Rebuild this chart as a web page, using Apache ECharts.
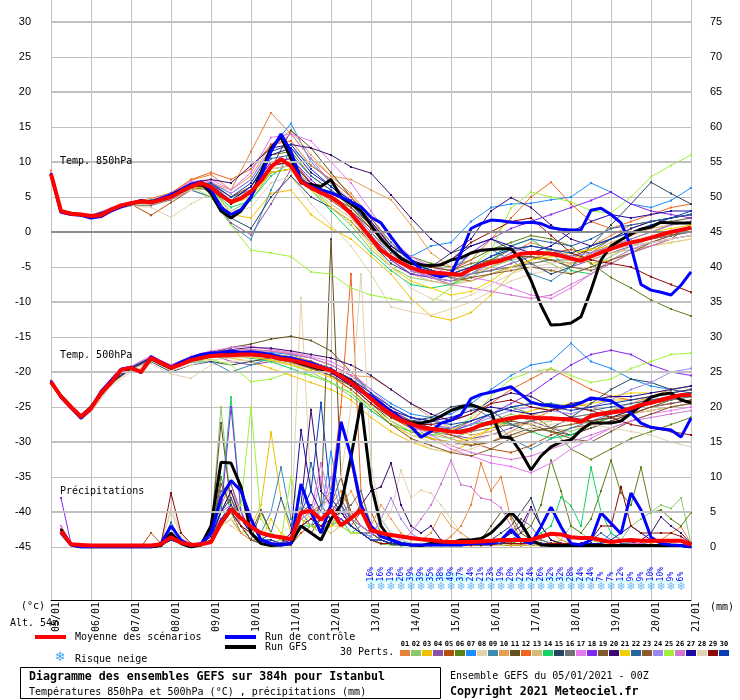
<!DOCTYPE html>
<html lang="fr">
<head>
<meta charset="utf-8">
<title>Ensembles GEFS Istanbul</title>
<script src="https://cdn.jsdelivr.net/npm/echarts@6.0.0/dist/echarts.min.js"></script>
<style>
    html, body { margin: 0; padding: 0; background: #fff; }
    #main { width: 740px; height: 700px; }
</style>
</head>
<body>
<div id="main"></div>
<script>
// ---- tick labels / categories
var DATE_LABELS = ['05/01', '06/01', '07/01', '08/01', '09/01', '10/01', '11/01', '12/01', '13/01',
    '14/01', '15/01', '16/01', '17/01', '18/01', '19/01', '20/01', '21/01'];
var PERT_NAMES = ['01', '02', '03', '04', '05', '06', '07', '08', '09', '10', '11', '12', '13', '14', '15',
    '16', '17', '18', '19', '20', '21', '22', '23', '24', '25', '26', '27', '28', '29', '30'];
var PERT_COLORS = ['#e8823a', '#8cc86e', '#f0c000', '#8c50aa', '#b4500a', '#5a8214', '#1e8cff', '#e6d2aa',
    '#3c8cb4', '#e6a050', '#645020', '#f06420', '#d2be78', '#14d264', '#284664', '#6e7378', '#e678f0',
    '#8228f0', '#7d5a28', '#3c0a6e', '#f0d200', '#2864a0', '#8c5a28', '#9b87f0', '#a0f03c', '#d278d2',
    '#1e0aa0', '#e1d2b4', '#8c0a0a', '#0a3cb4'];

// ---- snow risk (%), every 6h from 13/01 00z
var SNOW_RISK = [16, 16, 19, 26, 39, 39, 35, 38, 49, 37, 24, 21, 23, 19, 20, 22, 24, 26, 32, 32, 28, 24, 24,
    7, 7, 12, 9, 9, 10, 10, 9, 6];

// ---- mean / control / GFS, every 6h from 0h to 384h
var MEAN_T850 = [8.3, 3.0, 2.6, 2.5, 2.3, 2.4, 3.2, 3.8, 4.1, 4.4, 4.2, 4.6, 5.0, 5.8, 6.5, 7.0, 6.4, 5.2, 4.3, 4.8,
    5.8, 7.3, 9.3, 10.4, 9.4, 7.2, 6.3, 5.6, 5.0, 4.0, 2.6, 0.9, -0.9, -2.6, -3.6, -4.4, -5.1, -5.6, -5.8, -5.9,
    -6.0, -6.1, -5.3, -4.8, -4.4, -4.1, -3.6, -3.1, -3.0, -3.0, -3.1, -3.4, -3.8, -4.1, -3.5, -2.9, -2.4, -1.9, -1.5, -1.2,
    -0.8, -0.4, 0.0, 0.3, 0.6];
var CONTROL_T850 = [8.3, 2.8, 2.5, 2.4, 2.0, 2.2, 3.0, 3.6, 4.0, 4.5, 4.2, 4.8, 5.3, 6.0, 6.8, 7.2, 6.0, 3.5, 2.5, 3.2,
    5.0, 8.0, 11.5, 14.0, 11.5, 7.4, 6.5, 6.0, 5.6, 5.0, 4.3, 3.6, 2.1, 1.3, -0.7, -2.6, -4.0, -5.4, -6.0, -6.4,
    -6.0, -3.0, 0.5, 1.2, 1.7, 1.6, 1.4, 1.3, 1.4, 1.2, 0.6, 0.4, 0.3, 0.3, 3.1, 3.4, 2.5, 1.3, -2.1, -7.5,
    -8.3, -8.6, -9.0, -7.6, -5.7];
var GFS_T850 = [8.3, 2.9, 2.6, 2.5, 2.2, 2.4, 3.1, 3.8, 4.1, 4.4, 4.3, 4.7, 5.2, 6.0, 6.7, 7.0, 5.5, 3.0, 2.0, 3.0,
    5.0, 8.5, 12.0, 13.6, 10.5, 7.0, 6.8, 6.5, 7.5, 5.0, 4.0, 3.0, 1.0, -1.0, -2.5, -3.8, -4.5, -4.7, -4.8, -4.7,
    -4.0, -3.7, -3.0, -2.6, -2.5, -2.4, -2.4, -4.0, -6.9, -10.5, -13.3, -13.2, -13.0, -12.1, -8.3, -4.0, -2.0, -1.1, -0.3, 0.4,
    0.7, 1.4, 1.3, 1.3, 1.3];
var MEAN_T500 = [-21.4, -23.5, -25.0, -26.4, -25.2, -23.0, -21.5, -19.7, -19.4, -20.0, -18.0, -18.7, -19.4, -18.9, -18.3,
    -18.0, -17.7, -17.6, -17.6, -17.5, -17.5, -17.6, -17.8, -18.1, -18.3, -18.6, -19.0, -19.4, -19.8, -20.6,
    -21.5, -22.6, -23.8, -25.0, -26.0, -26.9, -27.4, -27.9, -28.1, -28.3, -28.5, -28.6, -28.2, -27.6, -27.2,
    -26.9, -26.6, -26.4, -26.5, -26.6, -26.6, -26.7, -26.8, -27.1, -26.3, -26.0, -25.8, -25.6, -25.2, -24.7,
    -24.4, -24.0, -23.6, -23.3, -23.3];
var CONTROL_T500 = [-21.3, -23.6, -25.1, -26.6, -25.3, -22.8, -21.2, -19.6, -19.3, -20.1, -17.8, -18.6, -19.3, -18.6, -18.0,
    -17.5, -17.3, -17.2, -17.0, -17.2, -17.1, -17.3, -17.5, -17.9, -18.0, -18.4, -18.7, -19.3, -20.0, -20.8,
    -21.6, -22.8, -23.4, -24.5, -25.6, -26.6, -27.8, -29.3, -28.5, -27.3, -26.9, -26.1, -23.8, -23.2, -22.9,
    -22.5, -22.1, -23.2, -24.3, -24.7, -24.8, -25.0, -24.9, -24.4, -23.7, -23.9, -24.1, -25.0, -25.9, -27.3,
    -27.9, -28.1, -28.3, -29.3, -26.6];
var GFS_T500 = [-21.5, -23.4, -25.0, -26.3, -25.0, -23.1, -21.6, -19.8, -19.5, -20.0, -18.1, -18.8, -19.5, -18.8, -18.2,
    -17.8, -17.5, -17.5, -17.4, -17.4, -17.3, -17.4, -17.7, -18.0, -18.3, -18.8, -19.2, -19.6, -20.0, -20.5,
    -21.3, -22.5, -23.8, -25.0, -26.0, -26.8, -27.2, -27.3, -27.0, -26.3, -25.5, -25.0, -24.7, -25.2, -25.7,
    -29.3, -29.4, -31.5, -34.0, -32.0, -30.7, -30.0, -29.7, -28.3, -27.3, -27.3, -27.3, -27.0, -25.9, -24.8,
    -23.6, -23.2, -23.0, -24.0, -24.4];

// precipitation (mm / 6h), every 6h from 6h to 384h
var MEAN_PRECIP = [2.2, 0.4, 0.3, 0.2, 0.2, 0.2, 0.2, 0.2, 0.2, 0.2, 0.4, 1.4, 0.6, 0.3, 0.4, 0.7, 3.4, 5.4, 4.1, 2.9,
    2.0, 1.6, 1.4, 1.1, 4.9, 5.2, 3.9, 5.3, 3.1, 4.1, 5.3, 2.4, 2.0, 1.7, 1.5, 1.3, 1.1, 1.0, 0.8, 0.7,
    0.7, 0.7, 0.8, 0.9, 1.0, 1.0, 1.0, 1.0, 1.5, 1.9, 1.8, 1.4, 1.3, 1.3, 1.0, 0.7, 0.9, 1.0, 0.9, 0.9,
    0.9, 0.9, 0.9, 0.3];
var CONTROL_PRECIP = [2.0, 0.3, 0, 0, 0, 0, 0, 0, 0, 0, 0.5, 3.0, 1.0, 0.2, 0.5, 2.0, 7.0, 9.5, 8.0, 4.0,
    1.0, 0.5, 0.3, 0.5, 9.0, 5.0, 2.0, 6.0, 17.9, 13.0, 6.0, 3.0, 1.5, 1.0, 0.5, 0.3, 0.3, 0.3, 0.3, 0.3,
    0.3, 0.5, 0.5, 0.5, 1.0, 2.5, 1.0, 0.5, 2.9, 5.7, 2.9, 0.5, 0.3, 1.0, 4.9, 3.4, 1.9, 7.7, 5.3, 1.4,
    0.5, 0.3, 0.2, 0];
var GFS_PRECIP = [2.5, 0.3, 0, 0, 0, 0, 0, 0, 0, 0, 0.2, 2.0, 0.5, 0, 0.3, 3.0, 12.1, 12.0, 8.6, 2.0,
    0.5, 0.2, 0.3, 0.5, 3.0, 2.0, 1.0, 4.0, 6.0, 12.9, 20.6, 9.0, 3.0, 1.0, 0.5, 0.3, 0.2, 0.5, 0.6, 0.6,
    1.0, 1.0, 1.2, 2.0, 3.4, 5.0, 3.4, 1.0, 0.3, 0.2, 0.2, 0.2, 0.2, 0.2, 0.2, 0.2, 0.2, 0.2, 0.2, 0.2,
    0.2, 0.2, 0.2, 0];

// ---- 30 perturbations: temps at 0,6,12,18,24h then every 12h to 384h
var PERT_T850 = [
    [8.8,3.1,2.8,2.6,2.4,3.4,4.3,4.8,5.6,7.4,8.2,6.0,11.5,17.0,14.0,10.5,8.0,5.5,2.0,-1.5,-4.0,-6.5,-7.5,-6.0,-4.5,-3.0,-1.5,-2.5,-4.0,-2.0,-0.5,1.0,1.5,2.0,2.5],
    [8.2,2.9,2.6,2.4,2.2,3.0,4.0,4.5,5.2,6.2,6.0,3.0,4.5,8.5,9.0,6.5,3.5,1.0,-2.5,-5.0,-6.5,-7.0,-7.5,-6.5,-5.0,-4.0,-3.5,-4.5,-6.0,-5.0,-3.5,-2.0,-1.0,-0.5,0.5],
    [8.3,3.0,2.7,2.5,2.3,3.2,4.1,4.0,4.8,6.6,6.5,2.5,2.0,5.5,6.0,2.5,0.5,-1.0,-3.5,-6.0,-9.5,-12.0,-12.6,-11.5,-9.0,-6.0,-4.0,-2.5,-3.0,-4.5,-4.0,-3.0,-2.0,-1.5,-1.0],
    [8.3,2.9,2.5,2.3,2.1,3.0,3.9,4.2,5.0,6.0,5.0,1.3,-0.4,4.0,9.0,7.0,5.0,2.5,-1.0,-4.0,-6.0,-6.5,-7.0,-6.0,-5.5,-4.5,-3.5,-4.0,-5.0,-4.0,-3.0,-2.0,-1.5,-0.5,0.0],
    [8.4,3.0,2.6,2.5,2.4,3.3,4.0,2.4,4.2,6.0,7.0,5.0,6.5,10.0,10.5,7.0,5.5,4.0,1.0,-2.5,-4.5,-5.5,-6.5,-7.0,-6.0,-5.0,-4.0,-3.0,-2.5,-3.0,-2.0,-1.0,0.0,1.0,1.5],
    [8.3,3.0,2.7,2.5,2.3,3.1,4.1,4.4,5.1,6.8,6.5,4.5,6.5,11.0,11.5,8.0,6.0,3.5,0.5,-2.0,-3.5,-4.5,-5.0,-4.0,-2.5,-1.5,-0.5,-1.0,-2.0,-4.5,-6.5,-8.0,-9.7,-11.0,-12.0],
    [8.2,3.0,2.6,2.4,2.2,3.2,4.2,4.3,5.2,6.7,7.0,5.5,7.5,12.0,15.5,10.0,7.0,4.0,1.0,-2.5,-3.5,-2.0,-1.5,1.5,3.5,4.0,4.1,4.6,5.0,7.0,5.7,4.0,3.5,4.5,6.3],
    [8.3,3.1,2.7,2.6,2.3,3.1,3.8,3.5,2.1,4.0,5.5,3.0,3.5,7.0,8.0,4.0,1.0,-2.0,-6.0,-10.7,-11.4,-11.9,-11.0,-10.0,-8.5,-7.0,-6.0,-5.5,-4.5,-3.5,-3.0,-2.5,-2.0,-1.5,-1.0],
    [8.3,3.0,2.6,2.5,2.3,3.2,4.1,4.3,5.0,6.0,5.0,1.0,-1.1,6.0,12.0,9.5,7.5,5.0,2.0,-1.5,-4.5,-5.0,-5.5,-3.0,-2.5,-4.0,-6.0,-7.0,-5.0,-3.0,-1.0,0.5,1.5,2.0,2.5],
    [8.4,3.1,2.7,2.5,2.4,3.3,4.2,4.5,5.5,7.0,7.0,6.0,8.0,12.5,14.5,11.0,8.0,7.5,6.0,4.6,1.0,-3.0,-5.0,-6.0,-5.0,-3.5,-3.0,-4.0,-4.5,-3.0,-1.5,-0.5,0.5,1.0,1.5],
    [8.3,3.0,2.6,2.4,2.2,3.1,4.0,4.2,5.0,6.5,6.8,5.0,6.0,9.0,14.5,12.0,8.5,5.0,1.5,-2.0,-4.0,-5.5,-6.0,-5.0,-4.0,-2.5,-2.0,-2.5,-3.5,-2.5,-1.0,0.0,1.0,1.5,2.0],
    [8.3,3.0,2.7,2.5,2.3,3.2,4.2,4.5,5.5,7.5,8.5,7.5,9.0,12.5,13.0,9.5,7.5,5.0,2.0,-2.0,-4.0,-5.0,-5.5,-4.0,-1.0,2.0,5.0,7.1,4.0,1.5,0.5,1.5,2.5,3.5,4.0],
    [8.2,3.0,2.6,2.5,2.3,3.2,4.0,4.2,5.0,6.3,6.0,4.0,5.5,9.5,10.0,6.5,4.0,2.0,-1.0,-4.0,-6.0,-7.0,-7.5,-7.0,-6.0,-5.0,-4.5,-4.0,-4.5,-4.0,-3.0,-2.5,-2.0,-1.0,-0.5],
    [8.3,3.0,2.7,2.5,2.3,3.2,4.2,4.4,5.2,6.6,6.0,3.5,4.5,8.0,10.0,6.0,3.0,0.0,-3.0,-5.5,-7.5,-8.0,-7.5,-6.0,-4.0,-2.0,-1.0,-3.0,-5.5,-6.0,-4.0,-2.5,-1.5,-1.0,-0.5],
    [8.3,3.0,2.6,2.4,2.2,3.1,4.1,4.3,5.1,6.4,6.0,2.0,0.5,5.0,8.0,5.0,3.5,1.5,-1.5,-4.5,-6.0,-5.0,-3.0,-2.0,-1.0,-2.5,-4.5,-6.0,-5.0,-2.0,1.0,4.0,7.1,5.5,4.0],
    [8.3,3.0,2.6,2.5,2.3,3.0,3.8,3.8,4.6,6.0,6.2,4.5,6.0,9.5,10.0,7.0,5.0,3.0,0.0,-3.0,-5.0,-6.0,-6.5,-6.0,-5.5,-5.0,-4.5,-4.0,-4.0,-3.5,-2.5,-1.5,-1.0,-0.5,0.0],
    [8.4,3.1,2.7,2.6,2.4,3.4,4.3,4.6,5.5,7.2,7.5,6.0,8.5,13.5,14.0,13.0,10.0,7.0,3.0,-1.0,-3.5,-5.0,-6.0,-6.5,-7.0,-8.0,-9.0,-9.5,-8.0,-6.0,-4.0,-2.5,-1.5,-1.0,-0.5],
    [8.3,3.0,2.6,2.5,2.3,3.3,4.2,4.5,5.3,6.8,6.8,4.5,6.0,10.0,10.5,7.5,5.0,2.5,-0.5,-4.0,-6.0,-6.5,-6.0,-3.0,-1.0,0.5,1.5,2.5,3.5,4.5,5.7,4.0,3.0,2.5,2.0],
    [8.3,3.0,2.6,2.4,2.3,3.1,4.0,4.1,4.9,6.3,6.5,4.5,5.5,8.5,9.0,6.5,5.0,3.5,1.0,-2.0,-4.0,-5.0,-5.5,-4.5,-4.0,-3.5,-3.5,-4.0,-5.0,-5.5,-4.5,-3.0,-2.0,-1.0,1.0],
    [8.3,3.0,2.7,2.5,2.3,3.3,4.2,4.4,5.5,7.0,7.5,7.0,9.5,12.0,12.5,12.0,11.0,9.3,8.4,5.3,2.0,-1.0,-3.0,-1.0,3.0,4.9,3.5,1.0,-1.0,-2.0,-1.0,0.5,1.5,2.0,2.5],
    [8.3,3.0,2.6,2.5,2.3,3.2,4.1,4.2,5.0,6.4,6.2,4.0,5.0,8.5,9.0,6.0,3.5,1.5,-2.0,-5.0,-7.0,-8.0,-9.0,-8.5,-7.0,-5.0,-4.0,-3.5,-3.0,-2.5,-2.0,-1.0,0.0,0.5,1.0],
    [8.3,3.0,2.6,2.5,2.3,3.2,4.1,4.3,5.2,6.7,6.7,4.5,6.5,10.5,11.0,8.0,6.0,4.0,1.0,-2.5,-4.5,-5.5,-6.0,-5.0,-3.5,-2.0,-1.0,-1.5,-2.0,-1.0,0.5,1.0,1.5,2.0,2.5],
    [8.3,3.0,2.6,2.5,2.3,3.1,4.0,4.2,5.0,6.2,6.0,4.0,5.5,9.0,9.5,6.5,4.5,2.5,-0.5,-3.5,-5.5,-6.5,-7.0,-6.5,-6.0,-5.5,-5.0,-5.5,-6.0,-5.0,-4.0,-3.0,-1.5,-0.5,0.5],
    [8.3,3.0,2.7,2.5,2.3,3.3,4.3,4.5,5.4,6.8,6.6,4.5,6.0,9.5,10.0,7.0,5.0,3.0,0.0,-3.5,-5.5,-6.5,-7.0,-6.0,-4.5,-3.0,-2.0,-2.5,-3.5,-3.0,-2.0,-1.0,0.0,1.0,1.5],
    [8.3,3.0,2.6,2.5,2.3,3.2,4.2,4.6,5.3,6.5,5.0,1.0,-2.6,-3.0,-3.5,-5.7,-6.0,-8.0,-9.0,-9.5,-10.1,-10.0,-8.0,-5.0,-2.6,3.4,5.7,5.0,4.3,3.0,2.7,5.0,7.9,9.5,11.0],
    [8.3,3.1,2.7,2.5,2.3,3.3,4.2,4.5,5.4,7.0,7.2,5.5,7.5,12.0,14.0,10.5,7.0,4.5,1.5,-2.5,-5.0,-6.5,-7.5,-8.0,-8.5,-9.0,-9.5,-9.0,-7.5,-6.0,-4.5,-3.0,-2.0,-1.0,-0.5],
    [8.3,3.0,2.6,2.5,2.3,3.2,4.1,4.3,5.1,6.6,6.5,4.5,6.5,11.0,12.0,8.5,6.5,4.5,1.5,-2.0,-4.0,-5.0,-4.0,-2.0,-1.0,-2.0,-3.0,-2.0,0.0,1.5,2.5,2.0,2.5,3.0,3.0],
    [8.2,3.0,2.6,2.4,2.2,3.0,3.8,4.0,4.8,6.0,6.2,4.5,6.0,9.0,9.5,6.5,4.0,2.0,-1.5,-5.0,-8.0,-9.5,-10.0,-9.0,-7.5,-6.0,-5.0,-4.5,-4.0,-3.5,-2.5,-2.0,-1.5,-1.0,-0.5],
    [8.3,3.0,2.6,2.5,2.3,3.2,4.1,4.3,5.2,6.6,6.4,4.0,5.5,9.5,10.0,7.0,5.0,3.0,0.5,-2.5,-4.5,-5.0,-4.0,-1.5,0.0,1.5,2.0,-0.5,-3.0,-4.0,-4.5,-5.0,-6.4,-7.5,-8.6],
    [8.3,3.0,2.6,2.5,2.3,3.2,4.2,4.5,5.3,6.8,7.0,5.0,7.0,11.5,12.5,9.0,6.5,4.0,1.0,-2.5,-4.5,-5.5,-6.0,-5.0,-3.5,-2.5,-2.0,-2.5,-3.0,-2.0,-1.0,0.0,1.0,2.0,3.0]
];
var PERT_T500 = [
    [-21.2,-23.3,-24.8,-26.2,-25.0,-21.2,-19.2,-17.8,-19.0,-17.8,-17.0,-17.0,-16.8,-17.0,-17.5,-18.5,-19.5,-21.0,-23.0,-25.5,-27.0,-28.5,-29.5,-30.5,-30.0,-28.5,-27.0,-25.5,-24.5,-25.0,-26.0,-25.0,-23.5,-22.5,-22.0],
    [-21.5,-23.6,-25.2,-26.6,-25.5,-21.8,-19.6,-18.2,-19.5,-18.5,-17.8,-17.8,-17.8,-18.3,-19.0,-20.0,-21.5,-23.5,-25.5,-27.5,-28.5,-29.0,-29.5,-28.5,-27.0,-26.0,-27.0,-28.0,-28.5,-27.5,-26.0,-25.0,-24.0,-23.5,-23.0],
    [-21.4,-23.5,-25.0,-26.5,-25.3,-21.6,-19.5,-18.1,-19.4,-18.4,-17.8,-18.0,-18.5,-19.5,-20.5,-21.5,-22.5,-24.0,-26.5,-28.5,-30.0,-31.0,-31.5,-30.0,-28.0,-27.0,-26.0,-25.5,-25.0,-24.5,-24.0,-24.0,-23.5,-23.0,-22.5],
    [-21.3,-23.4,-25.0,-26.3,-25.1,-21.4,-19.3,-17.9,-19.3,-18.2,-17.5,-18.5,-19.0,-18.5,-18.0,-18.5,-19.5,-21.0,-23.5,-26.5,-28.0,-28.5,-29.0,-29.5,-29.0,-28.0,-27.0,-28.0,-29.0,-28.0,-27.0,-26.0,-25.0,-24.5,-24.0],
    [-21.5,-23.6,-25.1,-26.5,-25.4,-21.7,-19.6,-18.3,-19.7,-18.5,-17.8,-17.5,-17.3,-17.5,-18.0,-18.5,-19.5,-21.0,-23.5,-25.5,-27.0,-28.0,-29.0,-30.0,-31.0,-31.5,-30.5,-29.0,-28.0,-27.5,-26.5,-26.0,-25.5,-25.0,-24.5],
    [-21.4,-23.5,-25.0,-26.4,-25.2,-21.5,-19.4,-18.0,-19.4,-18.3,-17.6,-17.4,-17.2,-17.4,-17.8,-18.5,-19.5,-21.5,-24.0,-26.5,-28.0,-28.5,-28.0,-27.0,-26.0,-25.0,-26.0,-28.0,-31.0,-32.5,-31.0,-29.5,-28.5,-27.5,-26.5],
    [-21.3,-23.4,-24.9,-26.3,-25.1,-21.3,-19.3,-17.9,-19.2,-18.0,-17.4,-17.3,-17.0,-17.2,-17.5,-18.0,-19.0,-20.5,-22.5,-24.5,-26.0,-26.5,-26.0,-24.5,-22.5,-20.5,-19.0,-18.5,-15.9,-18.5,-19.5,-21.0,-22.0,-22.5,-22.0],
    [-21.6,-23.7,-25.3,-26.8,-25.7,-22.0,-20.0,-18.8,-20.3,-20.9,-19.0,-18.5,-18.3,-18.5,-19.0,-19.5,-20.0,-21.5,-24.0,-27.0,-29.5,-31.0,-31.5,-31.0,-30.0,-29.0,-28.5,-28.0,-27.5,-27.0,-26.5,-26.0,-25.5,-25.0,-24.5],
    [-21.4,-23.5,-25.0,-26.4,-25.2,-21.5,-19.5,-18.2,-19.5,-18.6,-18.5,-20.0,-19.0,-18.0,-18.0,-18.5,-19.5,-21.0,-23.5,-26.0,-27.5,-27.0,-25.5,-25.0,-26.5,-29.5,-31.0,-29.5,-28.0,-27.0,-26.0,-25.0,-24.5,-24.0,-23.5],
    [-21.4,-23.5,-25.1,-26.5,-25.3,-21.6,-19.4,-18.0,-19.4,-18.2,-17.5,-17.2,-17.0,-17.0,-17.3,-18.0,-19.0,-20.5,-20.7,-22.5,-24.5,-26.5,-28.0,-29.0,-28.5,-27.0,-26.0,-26.5,-27.0,-26.5,-25.5,-24.5,-23.5,-23.0,-22.5],
    [-21.5,-23.6,-25.1,-26.5,-25.3,-21.6,-19.5,-18.1,-19.5,-18.3,-17.3,-16.5,-16.0,-15.3,-14.9,-15.5,-17.0,-20.0,-23.0,-25.5,-27.0,-28.0,-28.5,-28.0,-27.5,-27.0,-27.5,-28.5,-29.0,-28.0,-27.0,-26.0,-25.0,-24.0,-23.0],
    [-21.3,-23.4,-24.9,-26.3,-25.1,-21.4,-19.3,-17.9,-19.3,-18.1,-17.4,-17.2,-17.2,-17.5,-18.0,-18.5,-19.5,-21.5,-24.0,-26.5,-28.0,-28.5,-28.5,-27.0,-24.5,-22.5,-21.0,-19.5,-21.0,-22.5,-23.5,-24.0,-23.5,-23.0,-22.5],
    [-21.4,-23.5,-25.0,-26.4,-25.2,-21.5,-19.4,-18.0,-19.4,-18.4,-17.8,-17.8,-17.8,-18.2,-18.8,-19.5,-20.5,-22.0,-24.5,-26.5,-27.5,-28.0,-28.5,-28.5,-28.0,-27.5,-27.5,-27.0,-26.5,-26.0,-25.5,-25.0,-24.5,-24.0,-23.5],
    [-21.4,-23.5,-25.0,-26.4,-25.2,-21.5,-19.3,-17.9,-19.3,-18.2,-17.6,-17.8,-18.0,-18.5,-19.5,-20.5,-21.5,-23.0,-25.5,-27.5,-28.5,-29.0,-28.5,-27.5,-27.0,-27.5,-28.5,-29.5,-29.0,-27.5,-26.5,-25.5,-24.5,-24.0,-23.5],
    [-21.4,-23.5,-25.0,-26.4,-25.2,-21.5,-19.6,-18.5,-20.0,-19.0,-18.5,-19.0,-18.5,-18.0,-18.5,-19.0,-20.0,-21.5,-24.0,-26.0,-27.0,-26.5,-25.0,-24.5,-25.5,-27.5,-28.5,-28.0,-26.5,-24.5,-22.5,-21.0,-21.5,-22.5,-23.0],
    [-21.5,-23.6,-25.1,-26.5,-25.3,-21.6,-19.5,-18.1,-19.5,-18.4,-17.9,-17.8,-17.7,-18.0,-18.6,-19.3,-20.0,-21.5,-23.5,-25.5,-27.0,-28.0,-28.5,-28.5,-28.0,-27.5,-27.0,-26.5,-26.5,-26.0,-25.5,-25.0,-24.5,-24.0,-23.5],
    [-21.3,-23.4,-24.9,-26.3,-25.1,-21.3,-19.2,-17.7,-19.0,-17.8,-17.0,-16.5,-16.3,-16.8,-17.2,-17.8,-18.5,-20.0,-22.5,-25.0,-27.5,-29.5,-31.0,-32.0,-33.0,-33.5,-34.4,-33.0,-31.0,-29.5,-28.0,-27.0,-26.0,-25.5,-25.0],
    [-21.4,-23.5,-25.0,-26.4,-25.2,-21.4,-19.4,-18.0,-19.3,-18.2,-17.5,-17.4,-17.3,-17.6,-18.0,-18.7,-19.5,-21.0,-23.5,-26.0,-27.5,-28.0,-28.5,-27.5,-26.0,-24.5,-23.0,-21.0,-19.0,-17.5,-16.9,-17.5,-19.0,-20.0,-20.5],
    [-21.4,-23.5,-25.0,-26.4,-25.2,-21.5,-19.4,-18.0,-19.4,-18.3,-17.7,-17.6,-17.6,-18.0,-18.5,-19.5,-20.5,-22.0,-24.5,-27.0,-28.5,-29.5,-30.0,-30.5,-30.0,-29.0,-28.0,-28.5,-29.5,-30.0,-28.5,-27.0,-26.0,-25.0,-24.5],
    [-21.5,-23.6,-25.1,-26.5,-25.3,-21.6,-19.5,-18.1,-19.5,-18.2,-17.2,-16.8,-16.5,-16.6,-17.0,-17.5,-18.0,-19.0,-20.5,-22.5,-24.5,-26.0,-27.0,-26.0,-24.0,-23.0,-23.5,-25.0,-26.5,-27.0,-26.5,-25.5,-24.5,-23.5,-23.0],
    [-21.4,-23.5,-25.0,-26.4,-25.2,-21.5,-19.4,-18.0,-19.4,-18.3,-17.8,-17.8,-17.9,-18.3,-19.0,-19.8,-20.8,-22.5,-25.0,-27.5,-29.0,-29.5,-30.0,-29.5,-28.0,-26.5,-25.5,-25.0,-24.5,-24.0,-23.5,-23.0,-23.0,-22.5,-22.0],
    [-21.4,-23.5,-25.0,-26.4,-25.2,-21.5,-19.4,-18.0,-19.3,-18.1,-17.5,-17.4,-17.4,-17.7,-18.2,-18.8,-19.6,-21.2,-23.5,-25.8,-27.2,-28.0,-28.0,-27.0,-26.0,-25.0,-24.5,-24.5,-25.0,-25.5,-25.0,-24.5,-24.0,-23.5,-23.0],
    [-21.4,-23.5,-25.0,-26.4,-25.2,-21.5,-19.4,-18.0,-19.4,-18.3,-17.7,-17.6,-17.6,-18.0,-18.6,-19.4,-20.5,-22.5,-25.0,-27.5,-29.5,-30.5,-31.5,-32.0,-31.0,-29.5,-28.5,-28.0,-27.5,-27.0,-26.5,-26.0,-25.0,-24.5,-24.0],
    [-21.3,-23.4,-24.9,-26.3,-25.1,-21.4,-19.3,-17.9,-19.2,-18.1,-17.4,-17.3,-17.2,-17.4,-17.9,-18.6,-19.5,-21.0,-23.0,-25.0,-26.5,-27.5,-28.0,-27.5,-26.5,-25.5,-25.0,-25.5,-26.0,-25.0,-24.0,-22.5,-21.5,-20.0,-19.5],
    [-21.4,-23.5,-25.0,-26.4,-25.2,-21.5,-19.4,-18.0,-19.4,-18.5,-18.2,-19.0,-21.4,-21.0,-20.0,-20.5,-21.5,-23.0,-25.0,-27.0,-28.5,-29.0,-28.5,-26.5,-23.5,-21.0,-20.0,-19.5,-20.5,-21.5,-21.0,-19.5,-18.5,-17.5,-17.3],
    [-21.4,-23.5,-25.0,-26.4,-25.2,-21.5,-19.3,-17.8,-19.2,-17.9,-17.2,-16.9,-16.8,-17.0,-17.4,-18.0,-19.0,-20.5,-23.0,-25.5,-27.5,-29.0,-30.5,-31.5,-32.0,-32.5,-32.0,-31.0,-30.0,-29.0,-28.0,-27.0,-26.5,-26.0,-25.5],
    [-21.4,-23.5,-25.0,-26.4,-25.2,-21.5,-19.4,-18.0,-19.4,-18.2,-17.6,-17.5,-17.5,-17.8,-18.3,-19.0,-20.0,-21.5,-23.5,-25.5,-26.5,-27.0,-26.5,-25.5,-25.0,-25.5,-26.0,-25.5,-24.5,-24.0,-23.5,-23.5,-23.0,-22.5,-22.0],
    [-21.5,-23.6,-25.2,-26.7,-25.5,-21.8,-19.7,-18.4,-19.8,-19.0,-18.3,-18.0,-17.8,-18.0,-18.5,-19.0,-20.0,-21.5,-24.0,-27.0,-29.0,-30.0,-30.5,-30.0,-29.0,-28.5,-28.0,-27.5,-27.0,-27.5,-28.0,-28.5,-29.0,-30.0,-30.7],
    [-21.4,-23.5,-25.0,-26.4,-25.2,-21.5,-19.4,-18.0,-19.4,-18.3,-17.7,-17.5,-17.4,-17.7,-18.2,-19.0,-20.0,-22.0,-24.5,-26.5,-27.5,-27.5,-27.0,-26.0,-24.5,-24.0,-25.0,-25.5,-25.0,-25.5,-26.5,-27.5,-28.0,-28.5,-29.0],
    [-21.4,-23.5,-25.0,-26.4,-25.2,-21.5,-19.4,-18.0,-19.3,-18.1,-17.4,-17.3,-17.2,-17.5,-18.0,-18.7,-19.5,-21.0,-23.0,-25.0,-26.5,-27.0,-27.5,-27.0,-26.0,-25.0,-24.5,-25.0,-25.5,-25.0,-24.5,-24.0,-23.5,-23.0,-22.5]
];
// precipitation of the perturbations, every 6h from 6h to 384h
var PERT_PRECIP = [
    [3,0.4,0.2,0, 0,0,0,0, 0,0,0.5,2, 1,0.2,0.5,1.5, 6,9,4,2, 1,0.5,1,0.5, 3,2,4,6, 8,5,3,2, 1,0.5,0.5,0.3, 0.2,0.3,0.5,1.5, 3,6,12,8, 10,4,1,0.5, 0.3,0.5,0.3,0.2, 0.2,0.3,0.5,0.3, 0.2,0.5,1,0.5, 1,2,2.9,0.5],
    [2,0.3,0.1,0, 0,0,0,0, 0,0,0.2,1, 0.5,0.2,0.2,2, 20,6,3,1, 0.5,0.3,0.3,0.2, 4,3,2,3, 5,3,2,1, 0.5,0.3,0.2,0.2, 0.3,0.5,0.8,0.5, 0.3,0.2,0.2,0.5, 1,2,3,1, 0.5,0.3,1,3, 2,1,0.5,0.3, 1,3,4,5, 6,5.5,7,0.5],
    [2,0.3,0.1,0, 0,0,0,0, 0,0,0.3,1, 0.5,0.3,0.5,1, 3,4,2,3, 6,16.4,7,2, 3,5,2,4, 6,3,2,1, 0.5,0.5,0.3,0.2, 0.2,0.2,0.3,0.2, 0.2,0.2,0.3,0.5, 0.5,0.3,0.2,0.2, 0.2,0.5,1,0.5, 0.3,0.2,0.2,0.2, 0.3,0.5,0.3,0.2, 0.2,0.2,0.3,0],
    [2.5,0.3,0.2,0, 0,0,0,0, 0,0,0.2,1.2, 0.6,0.2,0.4,2.5, 8,9,5,2, 1,0.5,0.3,0.5, 6,4,3,5, 7,4,3,2, 1,0.5,0.3,0.2, 0.3,0.5,0.3,0.2, 0.2,0.3,0.2,0.2, 0.5,1,2,5.5, 3,1,0.5,0.3, 0.2,0.2,0.2,0.2, 0.2,0.3,0.2,0.2, 0.2,0.2,0.2,0],
    [3,0.5,0.3,0, 0,0,0,0, 0,2,0.5,1.5, 0.5,0.2,0.2,1, 5,7,3,1, 0.5,0.3,0.3,0.3, 2,3,3,5, 5,3,5,5, 2,1,0.5,0.3, 0.2,0.2,0.3,0.2, 0.3,0.5,1,0.5, 0.3,0.2,0.2,0.3, 0.5,0.3,0.2,0.2, 0.2,0.2,0.2,0.2, 0.2,0.2,0.3,0.2, 0.2,0.2,0.2,0],
    [2,0.3,0.1,0, 0,0,0,0, 0,0,0.2,1, 0.5,0.2,0.3,1.5, 10,5,2,1, 0.5,0.3,0.5,0.5, 3,2,4,3, 4,3,2,1, 0.5,0.3,0.3,0.2, 0.2,0.3,0.3,0.2, 0.3,0.3,0.5,0.5, 0.5,1,2,3, 6,12.4,8,3, 2,4,8,12.4, 7.7,6,11.4,4.9, 5.3,4,3,4.9],
    [2,0.3,0.2,0, 0,0,0,0, 0,0,0.3,1, 0.5,0.3,0.3,1, 4,5,3,2, 1,2,1,0.5, 3,4,5,13.6, 6,3,2,1.5, 4,2,1,0.5, 0.3,0.2,0.2,0.3, 0.5,0.5,0.3,0.3, 0.5,0.3,0.3,0.5, 1,0.5,0.3,0.3, 0.3,0.3,0.5,2, 1,0.5,0.3,0.3, 0.3,0.2,0.2,0],
    [2.5,0.4,0.2,0, 0,0,0,0, 0,0,0.5,5.5, 2,0.5,0.3,1, 4,3,2,1, 0.5,0.5,1,2, 35.6,8,4,3, 4,3,2,2, 3,5,11,7, 8.1,7.7,6,4, 2,1,0.5,0.5, 0.5,0.3,0.3,0.3, 0.5,1,0.5,0.3, 0.3,0.2,0.2,0.2, 0.2,0.3,0.2,0.2, 0.2,0.2,0.2,0],
    [2,0.3,0.1,0, 0,0,0,0, 0,0,0.2,1.5, 0.5,0.2,0.3,1.5, 5,6,4,3, 2,5,11.4,4, 5,3,6,4, 3,2,3,2, 1,0.5,0.3,0.3, 0.2,0.2,0.3,0.5, 0.5,0.3,0.3,0.5, 1,2,1,0.5, 0.5,0.3,0.3,0.2, 0.2,0.2,0.3,0.2, 0.2,0.2,0.2,0.2, 0.2,0.2,0.2,0],
    [3,0.4,0.2,0, 0,0,0,0, 0,0,0.3,1.5, 0.5,0.3,0.3,1, 3,4,2,1, 0.5,0.5,0.5,0.5, 6,5,4,3, 6,8,5,3, 6,4,2,1, 1,2,5,3, 2,1,0.5,0.5, 0.5,0.3,0.3,0.5, 1,2,1,0.5, 0.5,0.3,0.3,0.3, 0.3,0.3,0.5,0.3, 0.3,0.5,0.3,0],
    [2,0.3,0.1,0, 0,0,0,0, 0,0,0.3,1, 0.5,0.2,0.3,2, 17.7,6,3,1, 5,2,1,0.5, 3,4,6,44, 10,4,2,1, 0.5,0.3,0.3,0.2, 0.3,0.5,1,0.5, 0.3,0.5,1,3, 5,4.5,2,1, 0.5,0.3,0.3,0.3, 0.3,0.3,0.3,0.2, 0.2,0.3,0.3,0.2, 0.2,0.2,0.2,0],
    [2.5,0.3,0.2,0, 0,0,0,0, 0,0,0.3,1, 0.5,0.3,0.3,1, 5,8,4,2, 1,1,0.5,0.5, 3,4,6,8, 20,39,8,3, 1.5,1,0.5,0.5, 0.3,0.3,0.3,0.2, 0.2,0.2,0.3,0.3, 0.3,0.5,1,0.5, 0.3,0.3,0.2,0.2, 0.2,0.3,0.3,0.2, 0.2,0.2,0.3,0.2, 0.2,0.2,0.2,0],
    [2,0.3,0.2,0, 0,0,0,0, 0,0,0.3,2, 0.8,0.2,0.3,1, 4,5,3,2, 0.5,0.5,0.5,0.5, 4,3,3,2, 3,4,3,2, 1,0.5,0.3,0.3, 0.3,0.3,0.2,0.2, 0.2,0.2,0.2,0.3, 0.3,0.5,0.3,0.3, 0.3,0.5,0.3,0.3, 0.3,0.2,0.3,0.2, 0.2,0.2,0.2,0.2, 0.2,0.2,0.2,0],
    [2,0.3,0.1,0, 0,0,0,0, 0,0,0.3,3, 1,0.2,0.3,1.5, 6,21.4,5,2, 0.5,0.3,0.3,0.5, 3,3,2,3, 4,2,2,1, 0.5,0.3,0.2,0.2, 0.3,0.3,0.2,0.2, 0.2,0.3,0.5,0.5, 0.5,0.5,1,1, 2,3,7.1,5.9, 3,11.4,5,2, 1,0.5,0.5,0.3, 0.3,0.3,0.2,0],
    [2,0.3,0.2,0, 0,0,0,0, 0,0,0.2,1, 0.5,0.2,0.3,1, 3,5,4,2, 1,2,1,1, 5,6,4,5, 4,3,2,2, 1,0.5,0.5,0.3, 0.3,0.5,0.3,0.3, 0.5,0.5,0.5,1, 2,3,5,7, 3,1,0.5,0.3, 0.3,0.3,0.3,0.3, 0.3,0.3,0.2,0.3, 0.2,0.2,0.2,0],
    [2,0.3,0.1,0, 0,0,0,0, 0,0,0.3,1, 0.5,0.2,0.3,1, 4,5,3,1, 0.5,0.3,0.5,0.5, 4,5,6,7, 5,6,8,3, 1,0.5,0.3,0.3, 0.3,0.3,0.5,0.3, 0.3,0.3,0.3,0.5, 1,2,4,3, 1,0.5,0.3,0.3, 0.3,0.3,0.2,0.2, 0.2,0.2,0.2,0.2, 0.2,0.2,0.2,0],
    [3,0.4,0.2,0, 0,0,0,0, 0,0,0.3,1.5, 0.5,0.3,0.3,1.5, 5,6,3,2, 1,0.5,0.5,1, 3,4,10,5, 6,4,3,2, 1,0.5,0.5,0.3, 0.3,0.3,0.5,0.3, 0.5,0.5,0.5,0.5, 0.5,1,1,0.5, 0.5,0.3,0.3,0.3, 0.3,0.3,0.3,0.2, 0.2,0.2,0.3,0.2, 0.2,0.2,0.2,0],
    [7,0.5,0.2,0, 0,0,0,0, 0,0,0.3,1, 0.5,0.3,0.3,2, 5,20,5,2, 1,0.5,0.5,0.5, 4,3,4,5, 4,3,2,1, 0.5,0.3,0.3,0.2, 0.3,0.5,0.3,0.3, 0.3,0.3,0.3,0.3, 0.5,0.5,0.3,0.5, 0.5,0.5,0.3,0.5, 0.5,0.5,0.3,0.3, 0.3,0.3,0.3,0.3, 0.3,0.2,0.2,0],
    [2.5,0.3,0.2,0, 0,0,0,0, 0,0,0.3,1, 0.5,0.2,0.5,2, 9,6,3,2, 5.3,2,1,0.5, 4,3,4,6, 10,5,3,2, 1,0.5,0.5,0.3, 0.3,0.3,0.3,0.3, 0.3,0.3,0.5,0.5, 0.5,1,1,0.5, 0.5,0.3,0.3,0.3, 0.3,0.3,0.3,0.2, 0.2,0.2,0.2,0.2, 0.2,0.2,0.2,0],
    [2,0.3,0.1,0, 0,0,0,0, 0,0,0.2,1, 0.5,0.2,0.3,1, 4,5,3,2, 1,0.5,0.5,1, 6,19.6,8,6, 5,4,6,8, 8.6,12,6,3, 2,3,1,0.5, 0.5,0.5,0.5,0.5, 1,2,3,5.7, 3,1,0.5,0.5, 0.5,0.5,0.3,0.3, 0.3,0.5,1,2, 4.3,3,2,0.5],
    [2,0.3,0.2,0, 0,0,0,0, 0,0,0.3,1, 0.5,0.2,0.3,1, 3,6,3,2, 1,4,2,1, 4,3,2,3, 3,2,2,1, 0.5,0.5,0.3,0.3, 0.2,0.2,0.2,0.2, 0.2,0.3,0.3,0.3, 0.3,0.3,0.3,0.3, 0.3,0.3,0.3,0.2, 0.2,0.2,0.2,0.2, 0.2,0.2,0.2,0.2, 0.2,0.2,0.2,0],
    [2,0.3,0.1,0, 0,0,0,0, 0,0,0.3,3.5, 1,0.3,0.3,1, 5,7,4,2, 1,2,7,3, 5,12,6,4, 6,4,3,2, 1,0.5,0.3,0.3, 0.3,0.3,0.5,0.5, 0.5,0.5,0.5,0.5, 1,0.5,0.5,0.5, 0.5,0.5,0.5,0.5, 0.5,1,2,1, 0.5,0.5,0.5,0.3, 0.3,0.2,0.2,0],
    [2,0.3,0.2,0, 0,0,0,0, 0,0,0.3,1, 0.5,0.2,0.3,1, 4,5,3,1, 1,1,0.5,0.5, 3,4,3,5, 7,12,5,2, 1,0.5,0.5,0.3, 0.3,0.5,0.5,0.5, 0.5,0.5,1,1, 1,0.5,0.5,0.3, 0.3,0.3,0.3,0.3, 0.3,0.3,0.3,0.3, 0.3,0.3,0.3,0.3, 0.3,0.2,0.2,0],
    [2.5,0.3,0.2,0, 0,0,0,0, 0,0,0.3,1, 0.5,0.3,0.3,1, 4,6,3,2, 1,0.5,0.5,0.5, 3,4,5,10, 5,3,2,1.5, 4,7,4,2, 1,0.5,0.3,0.3, 0.3,0.3,0.3,0.3, 0.3,0.5,0.5,0.5, 0.5,0.5,0.5,0.3, 0.3,0.3,0.3,0.3, 0.3,0.3,0.3,0.3, 0.3,0.2,0.2,0],
    [2,0.3,0.1,0, 0,0,0,0, 0,0,0.3,1, 0.5,0.3,0.3,1.5, 3,4,6,20, 4,2,1,10, 4,3,3,4, 3,2,2,1, 0.5,0.3,0.3,0.3, 0.3,0.3,0.3,0.3, 0.3,0.3,0.3,0.3, 0.3,0.5,0.5,0.5, 0.5,0.5,0.5,0.3, 0.3,0.3,0.3,0.3, 0.3,0.3,0.3,0.3, 0.3,0.2,0.2,0],
    [2.5,0.3,0.2,0, 0,0,0,0, 0,0,0.3,1.5, 0.5,0.3,0.3,1, 4,5,3,2, 1,1,0.5,1, 4,5,12,6, 5,4,3,2, 2,1,1,2, 4,6,9,12.4, 8.9,8.6,7,6.7, 5.6,3,1,0.5, 0.5,0.5,0.5,0.5, 0.5,0.3,0.3,0.3, 0.3,0.5,0.5,0.3, 0.3,0.2,0.2,0],
    [2,0.3,0.1,0, 0,0,0,0, 0,0,0.3,1, 0.5,0.2,0.3,1.5, 5,8,4,2, 1,0.5,0.5,2, 16.7,8,5,4, 5,3,2,1, 1,0.5,0.3,0.3, 0.3,0.3,0.3,0.3, 0.3,0.3,0.3,0.3, 0.5,0.5,0.5,0.5, 0.5,0.5,0.5,0.5, 0.5,0.5,0.5,1, 2,3,2,1, 0.5,0.3,0.2,0],
    [2.5,0.3,0.2,0, 0,0,0,0, 0,0,0.5,5, 1.5,0.5,0.3,1, 3,4,3,2, 1,1,0.5,1, 6,4,5,8, 10,20,39,12, 4,2,1,0.5, 0.5,0.5,0.3,0.3, 0.3,0.3,0.3,0.3, 0.3,0.5,0.5,0.3, 0.3,0.3,0.3,0.3, 0.3,0.3,0.3,0.3, 0.3,0.3,0.3,0.3, 0.3,0.2,0.2,0],
    [2.5,0.3,0.2,0, 0,0,0,0, 0,0,0.5,7.7, 2,0.5,0.3,1, 4,5,3,2, 1,0.5,0.5,0.5, 3,4,3,4, 5,3,2,1, 0.5,0.5,0.3,0.3, 0.3,0.3,0.3,0.3, 0.3,0.3,0.3,0.3, 0.5,0.5,0.5,0.5, 0.5,0.5,0.5,0.5, 0.5,1,3,3, 8.6,3,2,2, 2,2,1.5,0.5],
    [2,0.3,0.1,0, 0,0,0,0, 0,0,0.3,1, 0.5,0.2,0.3,1, 4,6,4,2, 1,1,0.5,1, 5,8,20.6,7, 5,3,2,1, 1,0.5,0.3,0.3, 0.3,0.3,0.3,0.3, 0.3,0.5,0.5,0.5, 0.5,1,1,0.5, 0.5,0.3,0.3,0.3, 0.3,0.3,0.3,0.3, 0.3,0.3,0.3,0.3, 0.3,0.2,0.2,0]
];

// ---- time grids (hours since 05/01 00z)
var HOURS_6H = [];
for (var h = 0; h <= 384; h += 6) HOURS_6H.push(h);
var PRECIP_HOURS = HOURS_6H.slice(1);
var MEMBER_HOURS = [0, 6, 12, 18, 24];
for (h = 36; h <= 384; h += 12) MEMBER_HOURS.push(h);
var SNOW_HOURS = SNOW_RISK.map(function (v, j) { return 192 + 6 * j; });

function pairs(hours, values) {
    return values.map(function (v, i) { return [hours[i], v]; });
}

var MONO = '"DejaVu Sans Mono", "Liberation Mono", monospace';
var SANS = '"Liberation Sans", Arial, sans-serif';
var NONE = 'rgba(0,0,0,0)';

var series = [];

// thicker grid lines every 10 degrees, darker zero line
var THICK = [];
for (var v = -40; v <= 30; v += 10) THICK.push(v);
series.push({
    type: 'line', xAxisIndex: 0, yAxisIndex: 0, data: [], silent: true, z: 1,
    markLine: {
        silent: true, animation: false, symbol: ['none', 'none'], label: { show: false },
        data: THICK.map(function (t) {
            return { yAxis: t, lineStyle: { color: t === 0 ? '#8c8c8c' : '#c0c0c0', width: 2, type: 'solid' } };
        })
    }
});

function pertLine(data, i, yIdx) {
    return {
        type: 'line', xAxisIndex: 0, yAxisIndex: yIdx, data: data, silent: true, z: 2,
        symbol: 'rect', symbolSize: 2, showAllSymbol: true,
        lineStyle: { width: 1, color: PERT_COLORS[i] },
        itemStyle: { color: PERT_COLORS[i] }
    };
}
for (var i = 0; i < PERT_NAMES.length; i++) {
    series.push(pertLine(pairs(MEMBER_HOURS, PERT_T850[i]), i, 0));
    series.push(pertLine(pairs(MEMBER_HOURS, PERT_T500[i]), i, 0));
    series.push(pertLine(pairs(PRECIP_HOURS, PERT_PRECIP[i]), i, 1));
}

function mainLine(data, color, width, yIdx, z) {
    return {
        type: 'line', xAxisIndex: 0, yAxisIndex: yIdx, data: data, silent: true, z: z,
        symbol: 'none', lineStyle: { width: width, color: color }
    };
}
series.push(mainLine(pairs(HOURS_6H, GFS_T850), '#000000', 3, 0, 3));
series.push(mainLine(pairs(HOURS_6H, GFS_T500), '#000000', 3, 0, 3));
series.push(mainLine(pairs(PRECIP_HOURS, GFS_PRECIP), '#000000', 3, 1, 3));
series.push(mainLine(pairs(HOURS_6H, CONTROL_T850), '#0000ff', 3, 0, 4));
series.push(mainLine(pairs(HOURS_6H, CONTROL_T500), '#0000ff', 3, 0, 4));
series.push(mainLine(pairs(PRECIP_HOURS, CONTROL_PRECIP), '#0000ff', 3, 1, 4));
series.push(mainLine(pairs(HOURS_6H, MEAN_T850), '#ff0000', 4, 0, 5));
series.push(mainLine(pairs(HOURS_6H, MEAN_T500), '#ff0000', 4, 0, 5));
series.push(mainLine(pairs(PRECIP_HOURS, MEAN_PRECIP), '#ff0000', 4, 1, 5));

// background grid (vertical day lines + date axis)
series.push({ type: 'scatter', xAxisIndex: 1, yAxisIndex: 2, data: [], silent: true });

// snow risk strip: pale bars + flakes
series.push({
    type: 'bar', xAxisIndex: 2, yAxisIndex: 3, silent: true, barWidth: 10, z: 1,
    data: pairs(SNOW_HOURS, SNOW_RISK), itemStyle: { color: '#ccffff' }
});
series.push({
    type: 'scatter', xAxisIndex: 2, yAxisIndex: 3, silent: true, clip: false, z: 3,
    symbol: 'circle', symbolSize: 2, itemStyle: { color: NONE },
    data: SNOW_HOURS.map(function (hh) { return [hh, -20]; }),
    label: { show: true, position: 'inside', formatter: '\u2744', color: '#3fa6ee',
        fontSize: 11, fontFamily: '"DejaVu Sans"' }
});

// ---- texts / legend
var graphics = [];
function txt(s, x, y, font, align) {
    graphics.push({ type: 'text', silent: true, z: 10,
        style: { text: s, x: x, y: y, font: font || ('10px ' + MONO), fill: '#000',
            align: align || 'left', verticalAlign: 'middle' } });
}
function bar(x, y, w, hgt, color) {
    graphics.push({ type: 'rect', silent: true, z: 10, shape: { x: x, y: y, width: w, height: hgt },
        style: { fill: color } });
}
txt('Temp. 850hPa', 60, 161);
txt('Temp. 500hPa', 60, 355);
txt('Précipitations', 60, 491);
txt('(°c)', 21, 606);
txt('Alt. 54m', 10, 623);
txt('(mm)', 710, 607);
bar(35, 635, 31, 4, '#ff0000');
txt('Moyenne des scénarios', 75, 637);
bar(225, 635, 31, 4, '#0000ff');
txt('Run de contrôle', 265, 637);
bar(225, 645, 31, 4, '#000000');
txt('Run GFS', 265, 647);
graphics.push({ type: 'text', silent: true, z: 10,
    style: { text: '\u2744', x: 60, y: 658, font: '13px "DejaVu Sans"', fill: '#3fa6ee',
        align: 'center', verticalAlign: 'middle' } });
txt('Risque neige', 75, 659);
txt('30 Perts.', 340, 652);
PERT_NAMES.forEach(function (n, k) {
    txt(n, 405 + 11 * k, 644, 'bold 7px ' + MONO, 'center');
    bar(400 + 11 * k, 650, 10, 6, PERT_COLORS[k]);
});
graphics.push({ type: 'rect', silent: true, z: 10, shape: { x: 20.5, y: 667.5, width: 420, height: 31 },
    style: { fill: '#fff', stroke: '#000', lineWidth: 1 } });
txt('Diagramme des ensembles GEFS sur 384h pour Istanbul', 29, 677, 'bold 11.6px ' + MONO);
txt('Températures 850hPa et 500hPa (°C) , précipitations (mm)', 29, 692);
txt('Ensemble GEFS du 05/01/2021 - 00Z', 450, 676);
txt('Copyright 2021 Meteociel.fr', 450, 692, 'bold 11.6px ' + MONO);

var chart = echarts.init(document.getElementById('main'), null, { renderer: 'canvas' });
chart.setOption({
    animation: false,
    backgroundColor: '#ffffff',
    grid: [
        { left: 51, right: 49, top: 22, bottom: 153 },
        { left: 51, right: 49, top: 0, bottom: 100 },
        { left: 51, right: 49, top: 561, height: 30 }
    ],
    xAxis: [
        { type: 'value', gridIndex: 0, min: 0, max: 384, interval: 24, show: false },
        {
            type: 'value', gridIndex: 1, min: 0, max: 384, interval: 24,
            axisLine: { show: true, lineStyle: { color: '#000', width: 1 } },
            axisTick: { show: false },
            splitLine: { show: true, lineStyle: { color: '#c0c0c0', width: 1 } },
            axisLabel: {
                show: true, rotate: 90, margin: 2, showMinLabel: true, showMaxLabel: true,
                align: 'right', verticalAlign: 'top',
                fontFamily: MONO, fontSize: 10, color: '#000',
                formatter: function (val) { return DATE_LABELS[Math.round(val / 24)] || ''; }
            }
        },
        { type: 'value', gridIndex: 2, min: 0, max: 384, show: false }
    ],
    yAxis: [
        {
            type: 'value', gridIndex: 0, min: -45, max: 30, interval: 5, position: 'left',
            axisLine: { show: false }, axisTick: { show: false },
            axisLabel: { margin: 20, fontFamily: SANS, fontSize: 11, color: '#000' },
            splitLine: { show: true, lineStyle: { color: '#c0c0c0', width: 1 } }
        },
        {
            type: 'value', gridIndex: 0, min: 0, max: 75, interval: 5, position: 'right',
            axisLine: { show: false }, axisTick: { show: false },
            axisLabel: { margin: 19, fontFamily: SANS, fontSize: 11, color: '#000' },
            splitLine: { show: false }
        },
        { type: 'value', gridIndex: 1, min: 0, max: 1, show: false },
        { type: 'value', gridIndex: 2, min: -40, max: 100, show: false }
    ],
    graphic: { elements: graphics },
    series: series
});

// snow percentages: vertical text starting just above the flakes, placed through the axis scale
var snowTexts = SNOW_HOURS.map(function (hh, j) {
    var p = chart.convertToPixel({ xAxisIndex: 2, yAxisIndex: 3 }, [hh, 0]);
    return { type: 'text', silent: true, z: 10, x: p[0], y: p[1] - 1, rotation: Math.PI / 2,
        style: { text: SNOW_RISK[j] + '%', font: '8px ' + MONO, fill: '#0000ff',
            align: 'left', verticalAlign: 'middle' } };
});
chart.setOption({ graphic: { elements: graphics.concat(snowTexts) } });
</script>
</body>
</html>
